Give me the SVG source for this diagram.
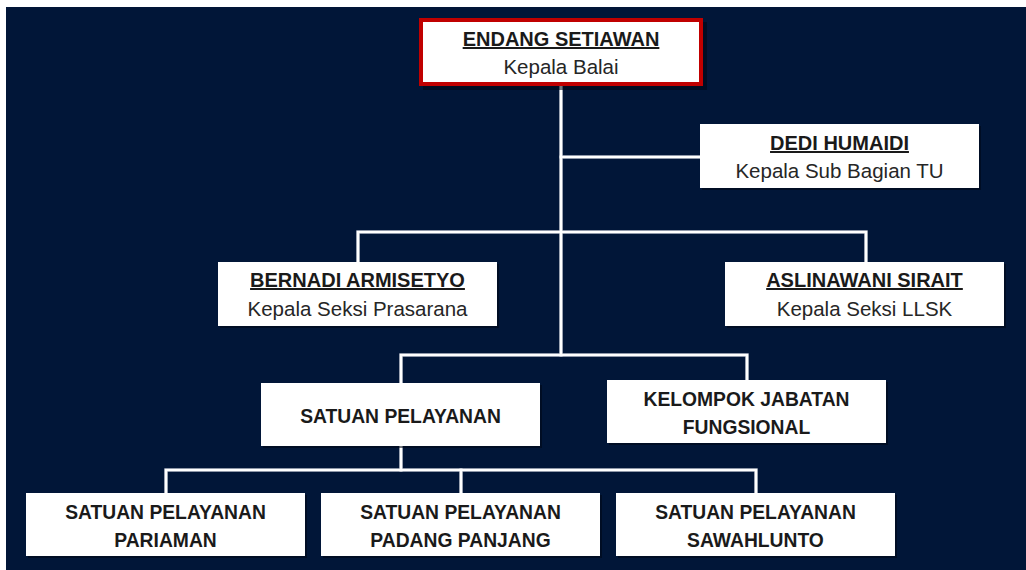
<svg xmlns="http://www.w3.org/2000/svg" width="1026" height="570" viewBox="0 0 1026 570">
  <defs>
    <style>
      .bg { fill: #011638; }
      .box { fill: #ffffff; }
      .boss { fill: #ffffff; stroke: #c00000; stroke-width: 4; }
      .shadow { fill: #000814; opacity: 0.55; }
      .line { fill: none; stroke: #ffffff; stroke-width: 2.6; stroke-linejoin: miter; stroke-linecap: square; }
      .lineEdge { fill: none; stroke: #8d96a8; stroke-width: 3.6; stroke-linejoin: miter; stroke-linecap: square; }
      .name { font-family: "Liberation Sans", Arial, sans-serif; font-weight: bold; font-size: 20px; fill: #1a1a1a; text-anchor: middle; text-decoration: underline; }
      .title { font-family: "Liberation Sans", Arial, sans-serif; font-size: 20.5px; fill: #262626; text-anchor: middle; }
      .unit { font-family: "Liberation Sans", Arial, sans-serif; font-weight: bold; font-size: 19.3px; fill: #1a1a1a; text-anchor: middle; }
    </style>
  </defs>

  <rect x="0" y="0" width="1026" height="570" fill="#ffffff"/>
  <rect class="bg" x="6" y="7" width="1020" height="563"/>

  <g id="connectors">
    <g class="lineEdge">
      <path d="M561 86 V355"/>
      <path d="M561 157 H700"/>
      <path d="M358 262 V232 H866 V262"/>
      <path d="M401 383 V355 H747 V380"/>
      <path d="M401 446 V470"/>
      <path d="M166 493 V470 H756 V493"/>
      <path d="M461 470 V493"/>
    </g>
    <g class="line">
      <path d="M561 86 V355"/>
      <path d="M561 157 H700"/>
      <path d="M358 262 V232 H866 V262"/>
      <path d="M401 383 V355 H747 V380"/>
      <path d="M401 446 V470"/>
      <path d="M166 493 V470 H756 V493"/>
      <path d="M461 470 V493"/>
    </g>
  </g>

  <g id="node-endang">
    <rect class="shadow" x="423" y="22" width="284" height="68"/>
    <rect class="boss" x="421" y="20" width="280" height="64"/>
    <text class="name" x="561" y="46">ENDANG SETIAWAN</text>
    <text class="title" x="561" y="74">Kepala Balai</text>
  </g>

  <g id="node-dedi">
    <rect class="shadow" x="702" y="126" width="279" height="64"/>
    <rect class="box" x="700" y="124" width="279" height="64"/>
    <text class="name" x="839.5" y="150">DEDI HUMAIDI</text>
    <text class="title" x="839.5" y="178">Kepala Sub Bagian TU</text>
  </g>

  <g id="node-bernadi">
    <rect class="shadow" x="220" y="264" width="279" height="64"/>
    <rect class="box" x="218" y="262" width="279" height="64"/>
    <text class="name" x="357.5" y="287">BERNADI ARMISETYO</text>
    <text class="title" x="357.5" y="316">Kepala Seksi Prasarana</text>
  </g>

  <g id="node-aslinawani">
    <rect class="shadow" x="727" y="264" width="279" height="64"/>
    <rect class="box" x="725" y="262" width="279" height="64"/>
    <text class="name" x="864.5" y="287">ASLINAWANI SIRAIT</text>
    <text class="title" x="864.5" y="316">Kepala Seksi LLSK</text>
  </g>

  <g id="node-satuan">
    <rect class="shadow" x="263" y="385" width="279" height="63"/>
    <rect class="box" x="261" y="383" width="279" height="63"/>
    <text class="unit" x="400.5" y="423">SATUAN PELAYANAN</text>
  </g>

  <g id="node-kelompok">
    <rect class="shadow" x="609" y="382" width="279" height="63"/>
    <rect class="box" x="607" y="380" width="279" height="63"/>
    <text class="unit" x="746.5" y="406">KELOMPOK JABATAN</text>
    <text class="unit" x="746.5" y="433.5">FUNGSIONAL</text>
  </g>

  <g id="node-pariaman">
    <rect class="shadow" x="28" y="495" width="279" height="63"/>
    <rect class="box" x="26" y="493" width="279" height="63"/>
    <text class="unit" x="165.5" y="519">SATUAN PELAYANAN</text>
    <text class="unit" x="165.5" y="547">PARIAMAN</text>
  </g>

  <g id="node-padang">
    <rect class="shadow" x="323" y="495" width="279" height="63"/>
    <rect class="box" x="321" y="493" width="279" height="63"/>
    <text class="unit" x="460.5" y="519">SATUAN PELAYANAN</text>
    <text class="unit" x="460.5" y="547">PADANG PANJANG</text>
  </g>

  <g id="node-sawahlunto">
    <rect class="shadow" x="618" y="495" width="279" height="63"/>
    <rect class="box" x="616" y="493" width="279" height="63"/>
    <text class="unit" x="755.5" y="519">SATUAN PELAYANAN</text>
    <text class="unit" x="755.5" y="547">SAWAHLUNTO</text>
  </g>
</svg>
